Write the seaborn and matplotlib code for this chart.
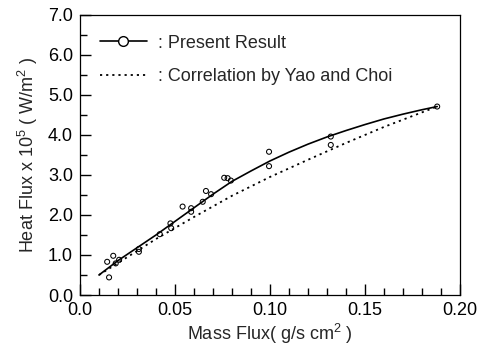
import numpy as np
import pandas as pd
import matplotlib
matplotlib.use("Agg")
import matplotlib.pyplot as plt
from matplotlib.lines import Line2D
from matplotlib.ticker import MultipleLocator, FixedLocator, FixedFormatter
import seaborn as sns

# measured points (open circles)
mass_flux_pts = [0.0143, 0.0175, 0.0153, 0.0188, 0.0206, 0.031, 0.031, 0.042,
                 0.0476, 0.048, 0.054, 0.0585, 0.0585, 0.0646, 0.0663, 0.069,
                 0.0759, 0.0777, 0.0794, 0.0995, 0.0995, 0.132, 0.132, 0.188]
heat_flux_pts = [0.83, 0.98, 0.44, 0.79, 0.88, 1.08, 1.15, 1.52,
                 1.79, 1.67, 2.21, 2.17, 2.08, 2.33, 2.60, 2.52,
                 2.93, 2.92, 2.86, 3.58, 3.22, 3.96, 3.75, 4.71]

# present result (solid curve)
fit_x = [0.010, 0.020, 0.030, 0.040, 0.050, 0.060, 0.070, 0.080, 0.090, 0.100,
         0.110, 0.120, 0.130, 0.140, 0.150, 0.160, 0.170, 0.180, 0.188]
fit_y = [0.50, 0.86, 1.18, 1.50, 1.84, 2.18, 2.52, 2.84, 3.10, 3.35,
         3.57, 3.77, 3.95, 4.11, 4.26, 4.40, 4.52, 4.63, 4.71]

# correlation by Yao and Choi (dotted)
corr_x = [0.010, 0.020, 0.040, 0.060, 0.080, 0.100, 0.120, 0.140, 0.160, 0.188]
corr_y = [0.50, 0.80, 1.40, 1.95, 2.48, 2.95, 3.38, 3.80, 4.20, 4.71]

# axis ticks
x_ticks = [0.0, 0.05, 0.10, 0.15, 0.20]
x_labels = ['0.0', '0.05', '0.10', '0.15', '0.20']
y_ticks = [0.0, 1.0, 2.0, 3.0, 4.0, 5.0, 6.0, 7.0]
y_labels = ['0.0', '1.0', '2.0', '3.0', '4.0', '5.0', '6.0', '7.0']

sns.set_style("ticks", {
    'xtick.direction': 'in', 'ytick.direction': 'in',
    'xtick.color': 'black', 'ytick.color': 'black',
    'axes.edgecolor': 'black',
})
plt.rcParams['font.family'] = ['Liberation Sans', 'DejaVu Sans']
plt.rcParams['mathtext.fontset'] = 'custom'
plt.rcParams['mathtext.rm'] = 'Liberation Sans'

fig = plt.figure(figsize=(4.81, 3.55), dpi=100)
ax = fig.add_axes([0.1663, 0.169, 0.790, 0.789])

pts = pd.DataFrame({'x': mass_flux_pts, 'y': heat_flux_pts})
fit = pd.DataFrame({'x': fit_x, 'y': fit_y})
corr = pd.DataFrame({'x': corr_x, 'y': corr_y})

sns.lineplot(data=fit, x='x', y='y', ax=ax, color='black', lw=1.2, sort=True)
sns.lineplot(data=corr, x='x', y='y', ax=ax, color='black', lw=1.3,
             linestyle=(0, (1.2, 2.2)), sort=True)
sns.scatterplot(data=pts, x='x', y='y', ax=ax, marker='o', s=13,
                facecolor='none', edgecolor='black', linewidth=0.75)

ax.set_xlim(0.0, 0.20)
ax.set_ylim(0.0, 7.0)
ax.xaxis.set_major_locator(FixedLocator(x_ticks))
ax.xaxis.set_major_formatter(FixedFormatter(x_labels))
ax.xaxis.set_minor_locator(MultipleLocator(0.01))
ax.yaxis.set_major_locator(FixedLocator(y_ticks))
ax.yaxis.set_major_formatter(FixedFormatter(y_labels))
ax.yaxis.set_minor_locator(MultipleLocator(0.5))
ax.tick_params(which='both', bottom=True, left=True, top=False, right=False)
ax.tick_params(which='major', direction='in', length=8, width=1.0,
               color='black', labelsize=13, labelcolor='black', pad=5)
ax.tick_params(which='minor', direction='in', length=5, width=1.0,
               color='black')

for sp in ax.spines.values():
    sp.set_visible(True)
    sp.set_color('black')
    sp.set_linewidth(0.9)

ax.set_xlabel('Mass Flux( g/s cm$^2$ )', fontsize=13, labelpad=2)
ax.set_ylabel('Heat Flux x 10$^5$ ( W/m$^2$ )', fontsize=13, labelpad=6)

handles = [
    Line2D([], [], color='black', lw=1.2, marker='o', markersize=7,
           markerfacecolor='white', markeredgecolor='black'),
    Line2D([], [], color='black', lw=1.3, linestyle=(0, (1.2, 2.2))),
]
ax.legend(handles, [': Present Result', ': Correlation by Yao and Choi'],
          loc='upper left', frameon=False, fontsize=13, handlelength=2.6,
          handletextpad=0.6, labelspacing=0.9, borderaxespad=0.7)

fig.savefig('out.png', dpi=100)
